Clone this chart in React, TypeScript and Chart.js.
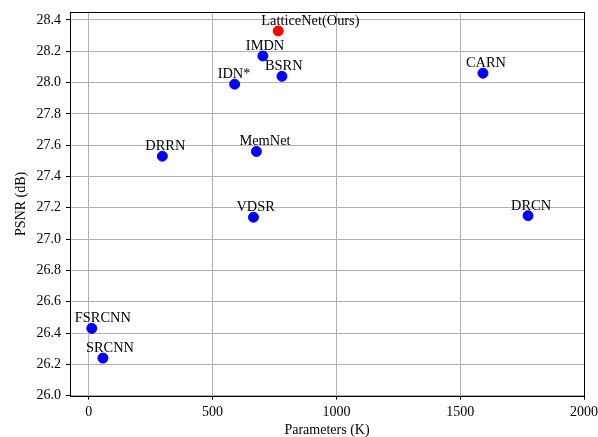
import React, { useEffect, useRef } from 'react';
import { Chart, registerables } from 'chart.js';

Chart.register(...registerables);

const models = ['LatticeNet(Ours)', 'IMDN', 'BSRN', 'IDN*', 'CARN', 'DRRN', 'MemNet', 'VDSR', 'DRCN', 'FSRCNN', 'SRCNN'];
const paramsK = [765, 703, 780, 589, 1592, 297, 677, 665, 1774, 12, 57];
const psnr = [28.33, 28.17, 28.04, 27.99, 28.06, 27.53, 27.56, 27.14, 27.15, 26.43, 26.24];
const oursName = 'LatticeNet(Ours)';

const xTicks = [0, 500, 1000, 1500, 2000];
const yTicks = [26.0, 26.2, 26.4, 26.6, 26.8, 27.0, 27.2, 27.4, 27.6, 27.8, 28.0, 28.2, 28.4];

const FONT = '"Liberation Serif", "Times New Roman", serif';

const labelPlugin = {
  id: 'pointLabels',
  afterDatasetsDraw(chart: any) {
    const ctx = chart.ctx;
    const meta = chart.getDatasetMeta(0);
    ctx.save();
    ctx.font = `14.4px ${FONT}`;
    ctx.fillStyle = '#000';
    ctx.textAlign = 'left';
    ctx.textBaseline = 'alphabetic';
    meta.data.forEach((pt: any, i: number) => {
      ctx.fillText(models[i], pt.x - 17, pt.y - 6);
    });
    ctx.restore();
  },
};

const framePlugin = {
  id: 'frame',
  beforeDatasetsDraw(chart: any) {
    const { ctx, chartArea } = chart;
    ctx.save();
    ctx.strokeStyle = '#000';
    ctx.lineWidth = 1;
    ctx.strokeRect(
      Math.round(chartArea.left) + 0.5,
      Math.round(chartArea.top) + 0.5,
      Math.round(chartArea.right - chartArea.left),
      Math.round(chartArea.bottom - chartArea.top)
    );
    ctx.restore();
  },
};

export default function App() {
  const ref = useRef<HTMLCanvasElement | null>(null);

  useEffect(() => {
    if (!ref.current) return;
    const colors = models.map((m) => (m === oursName ? '#ff0000' : '#0000ff'));
    const chart = new Chart(ref.current, {
      type: 'scatter',
      data: {
        datasets: [
          {
            data: paramsK.map((x, i) => ({ x, y: psnr[i] })),
            backgroundColor: colors,
            borderColor: colors,
            borderWidth: 1,
            pointRadius: 5,
          },
        ],
      },
      options: {
        responsive: false,
        animation: false,
        layout: { padding: { top: 12, right: 14, left: 0, bottom: 0 } },
        plugins: {
          legend: { display: false },
          tooltip: { enabled: false },
        },
        scales: {
          x: {
            type: 'linear',
            min: -76,
            max: 2000,
            afterBuildTicks: (s: any) => {
              s.ticks = xTicks.map((v) => ({ value: v }));
            },
            afterFit: (s: any) => {
              s.height = 41.33;
              s.paddingRight = 0;
              s.paddingLeft = 0;
            },
            grid: { color: '#b0b0b0', lineWidth: 1, tickLength: 4, tickColor: '#000', drawTicks: true },
            border: { display: false },
            ticks: {
              color: '#000',
              font: { family: FONT, size: 14 },
              padding: 4,
              maxRotation: 0,
              autoSkip: false,
              callback: (v: any) => String(v),
            },
            title: {
              display: true,
              text: 'Parameters (K)',
              color: '#000',
              font: { family: FONT, size: 14, lineHeight: 1 },
              padding: { top: 0, bottom: 0 },
            },
          },
          y: {
            type: 'linear',
            min: 26.0,
            max: 28.451,
            afterBuildTicks: (s: any) => {
              s.ticks = yTicks.map((v) => ({ value: v }));
            },
            afterFit: (s: any) => {
              s.width = 70;
              s.paddingTop = 0;
              s.paddingBottom = 0;
            },
            grid: { color: '#b0b0b0', lineWidth: 1, tickLength: 4, tickColor: '#000', drawTicks: true },
            border: { display: false },
            ticks: {
              color: '#000',
              font: { family: FONT, size: 14 },
              padding: 5,
              autoSkip: false,
              callback: (v: any) => Number(v).toFixed(1),
            },
            title: {
              display: true,
              text: 'PSNR (dB)',
              color: '#000',
              font: { family: FONT, size: 14, lineHeight: 1 },
              padding: { top: 14, bottom: 0 },
            },
          },
        },
      },
      plugins: [framePlugin, labelPlugin],
    } as any);
    return () => chart.destroy();
  }, []);

  return (
    <div style={{ position: 'absolute', left: 0, top: 0, width: 598, height: 437, background: '#fff' }}>
      <canvas ref={ref} width={598} height={437} style={{ width: 598, height: 437, display: 'block' }} />
    </div>
  );
}
